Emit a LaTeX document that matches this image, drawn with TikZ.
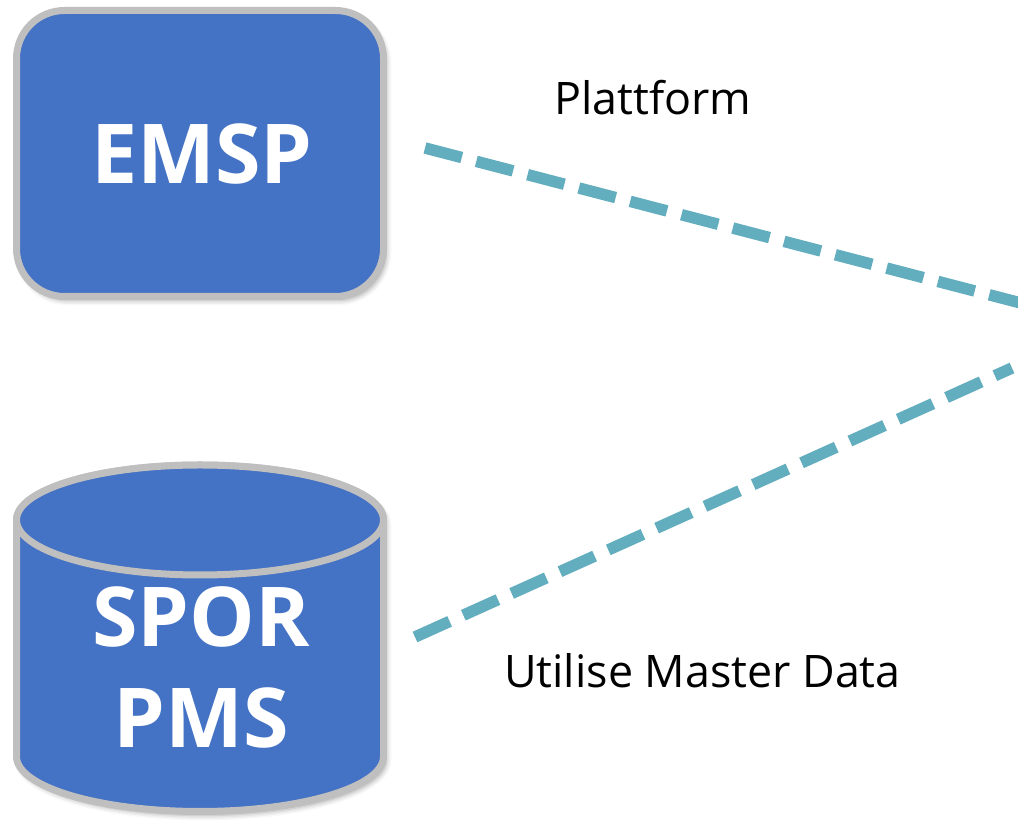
\documentclass[tikz,border=0pt]{standalone}
\usepackage{fontspec}
\setmainfont{Open Sans}
\usetikzlibrary{shadows.blur}
\definecolor{boxblue}{RGB}{68,114,196}
\definecolor{boxgray}{RGB}{191,191,191}
\definecolor{linkteal}{RGB}{99,174,190}
\tikzset{
  softshadow/.style={blur shadow={shadow xshift=3pt, shadow yshift=-4pt, shadow blur radius=5pt, shadow opacity=35}},
  sysbox/.style={draw=boxgray, fill=boxblue, line width=7pt, rounded corners=48pt,
    minimum width=367pt, minimum height=286pt, inner sep=0pt, softshadow},
  systext/.style={text=white, font=\fontsize{82.6}{100}\selectfont\bfseries, inner sep=0pt},
  linklabel/.style={text=black, font=\fontsize{44.8}{54}\selectfont, inner sep=0pt},
  link/.style={draw=linkteal, line width=11.5pt, dash pattern=on 38pt off 15pt}
}
\begin{document}
\begin{tikzpicture}[x=1pt,y=1pt]
\useasboundingbox (0,0) rectangle (1018,824);
\clip (0,0) rectangle (1018,824);
% EMSP box
\node[sysbox] (emsp) at (200,670.5) {};
\node[systext, anchor=base] (emsptext) at (202,640) {EMSP};
% SPOR PMS cylinder
\path[fill=boxblue, draw=boxgray, line width=7pt, softshadow]
  (16.5,304) -- (16.5,67.5)
  arc[start angle=180, end angle=360, x radius=183.5, y radius=55]
  -- (383.5,304)
  arc[start angle=0, end angle=180, x radius=183.5, y radius=55] -- cycle;
\draw[fill=boxblue, draw=boxgray, line width=7pt] (200,304) ellipse[x radius=183.5, y radius=55];
\node[systext, anchor=base] (spor) at (201,177) {SPOR};
\node[systext, anchor=base] (pms) at (201,76) {PMS};
% connectors
\coordinate (l1s) at (425,676);
\coordinate (l1e) at (1040,516);
\coordinate (l2s) at (415,187);
\coordinate (l2e) at (1012,456);
\draw[link] (l1s) -- (l1e);
\draw[link] (l2s) -- (l2e);
% labels
\node[linklabel, anchor=base west] (plat) at (554,709) {Plattform};
\node[linklabel, anchor=base west] (util) at (504,136) {Utilise Master Data};
\end{tikzpicture}
\end{document}
